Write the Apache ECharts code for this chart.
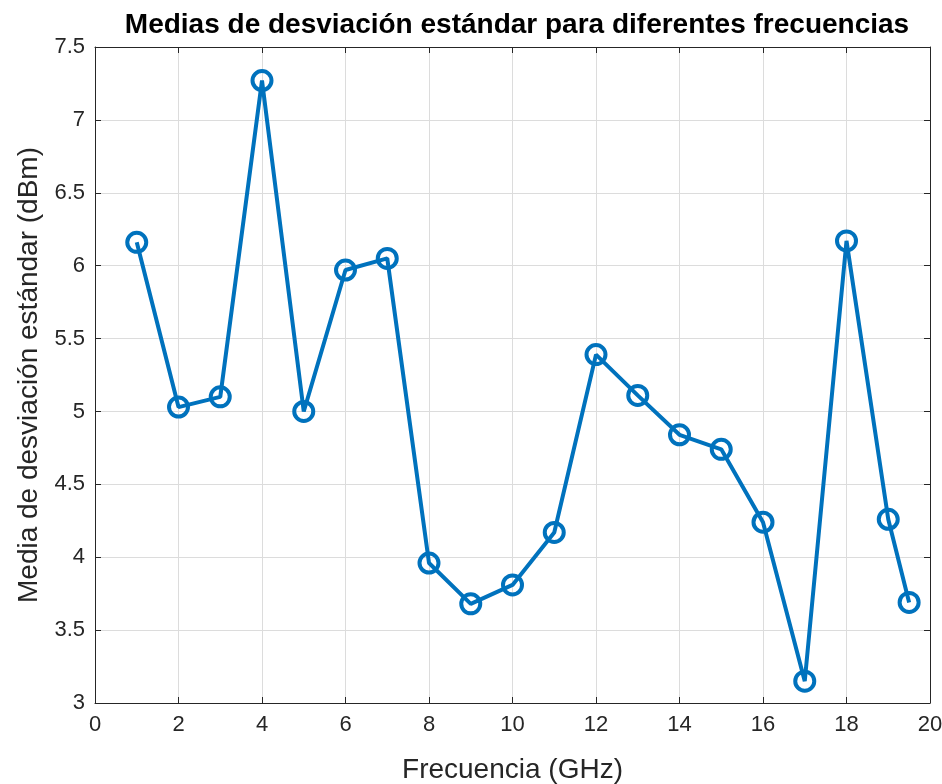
<!DOCTYPE html>
<html lang="es">
<head>
    <meta charset="utf-8">
    <style type="text/css">
    body { margin: 0; background-color: #fff; }
    #chart { width: 942px; height: 784px; }
    </style>
</head>
<body>
    <div id="chart"></div>
    <script type="text/javascript" src="https://cdn.jsdelivr.net/npm/echarts@6/dist/echarts.min.js"></script>
    <script type="text/javascript">
    // frecuencias (GHz) y medias de desviación estándar (dBm)
    var frecuencias = [1, 2, 3, 4, 5, 6, 7, 8, 9, 10, 11, 12, 13, 14, 15, 16, 17, 18, 19, 19.5];
    var medias = [6.16, 5.03, 5.10, 7.27, 5.00, 5.97, 6.05, 3.96, 3.68, 3.81, 4.17, 5.39, 5.11, 4.84, 4.74, 4.24, 3.15, 6.17, 4.26, 3.69];
    var xTicks = [0, 2, 4, 6, 8, 10, 12, 14, 16, 18, 20];
    var yTicks = [3, 3.5, 4, 4.5, 5, 5.5, 6, 6.5, 7, 7.5];

    var puntos = frecuencias.map(function(f, i) { return [f, medias[i]]; });
    var fuente = 'Liberation Sans, Arial, sans-serif';
    var chart = echarts.init(document.getElementById('chart'));

    var ejeX = {
        type: 'value', min: 0, max: 20, interval: 2,
        axisLine: { show: true, onZero: false, lineStyle: { color: '#262626', width: 1 } },
        axisTick: { show: true, inside: true, length: 6, lineStyle: { color: '#262626' } },
        splitLine: { show: true, lineStyle: { color: '#dcdcdc', width: 1 } }
    };
    var ejeY = {
        type: 'value', min: 3, max: 7.5, interval: 0.5,
        axisLine: { show: true, onZero: false, lineStyle: { color: '#262626', width: 1 } },
        axisTick: { show: true, inside: true, length: 6, lineStyle: { color: '#262626' } },
        splitLine: { show: true, lineStyle: { color: '#dcdcdc', width: 1 } }
    };

    var option = {
        animation: false,
        title: {
            text: 'Medias de desviación estándar para diferentes frecuencias',
            left: 512, top: 6, textAlign: 'center',
            textStyle: { fontFamily: fuente, fontSize: 28, fontWeight: 'bold', color: '#000' }
        },
        grid: { left: 95, right: 12, top: 47, bottom: 81, outerBoundsMode: 'none' },
        xAxis: [
            Object.assign({}, ejeX, {
                position: 'bottom',
                name: 'Frecuencia (GHz)', nameLocation: 'middle', nameGap: 53,
                nameTextStyle: { fontFamily: fuente, fontSize: 28, color: '#262626' },
                axisLabel: {
                    margin: 11, fontFamily: fuente, fontSize: 22, color: '#262626',
                    customValues: xTicks
                }
            }),
            Object.assign({}, ejeX, { position: 'top', axisLabel: { show: false }, splitLine: { show: false } })
        ],
        yAxis: [
            Object.assign({}, ejeY, {
                position: 'left',
                name: 'Media de desviación estándar (dBm)', nameLocation: 'middle', nameGap: 51,
                nameTextStyle: { fontFamily: fuente, fontSize: 28, color: '#262626' },
                axisLabel: {
                    margin: 10, fontFamily: fuente, fontSize: 22, color: '#262626',
                    customValues: yTicks
                }
            }),
            Object.assign({}, ejeY, { position: 'right', axisLabel: { show: false }, splitLine: { show: false } })
        ],
        series: [{
            type: 'line',
            data: puntos,
            symbol: 'circle',
            symbolSize: 19,
            lineStyle: { color: '#0072BD', width: 4 },
            itemStyle: { color: 'rgba(0,0,0,0)', borderColor: '#0072BD', borderWidth: 4 }
        }]
    };
    chart.setOption(option);
    </script>
</body>
</html>
